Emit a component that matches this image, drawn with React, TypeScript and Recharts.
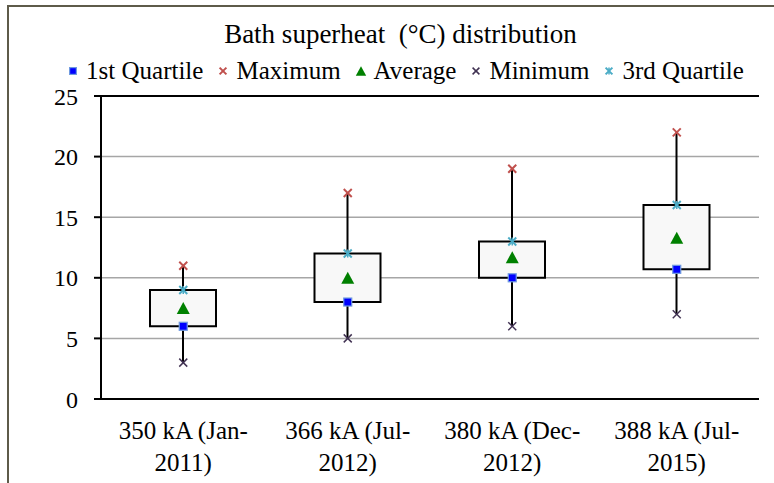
import React from 'react'
import {
  ComposedChart, Bar, Line, XAxis, YAxis, CartesianGrid, ReferenceLine
} from 'recharts'

const categories = ['350 kA (Jan-\n2011)', '366 kA (Jul-\n2012)', '380 kA (Dec-\n2012)', '388 kA (Jul-\n2015)']
const minimum = [3, 5, 6, 7]
const firstQuartile = [6, 8, 10, 10.7]
const average = [7.5, 10, 11.7, 13.3]
const thirdQuartile = [9, 12, 13, 16]
const maximum = [11, 17, 19, 22]
const yTicks = [0, 5, 10, 15, 20, 25]
const edgeTicks = [0, 1, 2, 3, 4]

const FONT = "'Liberation Serif', 'Times New Roman', serif"

const data = categories.map((name, i) => ({
  name,
  base: minimum[i],
  lowWhisker: firstQuartile[i] - minimum[i],
  box: thirdQuartile[i] - firstQuartile[i],
  highWhisker: maximum[i] - thirdQuartile[i],
  q1: firstQuartile[i],
  max: maximum[i],
  avg: average[i],
  min: minimum[i],
  q3: thirdQuartile[i],
}))

const COLORS = {
  q1: '#0000ff',
  max: '#c0504d',
  avg: '#008000',
  min: '#403152',
  q3: '#4bacc6',
}

// marker glyphs, shared by plot and legend
function Marker({ kind, cx, cy, s = 1 }: { kind: string; cx: number; cy: number; s?: number }) {
  const r = 4 * s
  if (kind === 'q1') {
    return <rect x={cx - r} y={cy - r} width={2 * r} height={2 * r} fill={COLORS.q1} stroke="#6f9ae0" strokeWidth={1.2} />
  }
  if (kind === 'avg') {
    const h = 12 * s
    const w = 13 * s
    return <polygon points={`${cx},${cy - h / 2} ${cx + w / 2},${cy + h / 2} ${cx - w / 2},${cy + h / 2}`} fill={COLORS.avg} />
  }
  if (kind === 'min') {
    return (
      <g stroke={COLORS.min} strokeWidth={1.5}>
        <line x1={cx - r} y1={cy - r} x2={cx + r} y2={cy + r} />
        <line x1={cx - r} y1={cy + r} x2={cx + r} y2={cy - r} />
      </g>
    )
  }
  const color = kind === 'max' ? COLORS.max : COLORS.q3
  return (
    <g stroke={color} strokeWidth={2}>
      <line x1={cx - r} y1={cy - r} x2={cx + r} y2={cy + r} />
      <line x1={cx - r} y1={cy + r} x2={cx + r} y2={cy - r} />
      {kind === 'q3' && <line x1={cx} y1={cy - r} x2={cx} y2={cy + r} strokeWidth={1.5} />}
    </g>
  )
}

const dotFor = (kind: string) => (p: any) => (
  <Marker key={`${kind}-${p.index}`} kind={kind} cx={p.cx} cy={p.cy} />
)

const Whisker = (p: any) => {
  const { x, y, width, height } = p
  if (height == null) return null
  return <line x1={x + width / 2} x2={x + width / 2} y1={y} y2={y + height} stroke="#000" strokeWidth={2} />
}

const CategoryTick = (p: any) => {
  const lines = String(p.payload.value).split('\n')
  return (
    <text x={p.x} y={p.y} textAnchor="middle" style={{ fontFamily: FONT, fontSize: 25 }} fill="#000">
      {lines.map((l, i) => (
        <tspan key={i} x={p.x} dy={32}>{l}</tspan>
      ))}
    </text>
  )
}

const legendItems = [
  { kind: 'q1', label: '1st Quartile' },
  { kind: 'max', label: 'Maximum' },
  { kind: 'avg', label: 'Average' },
  { kind: 'min', label: 'Minimum' },
  { kind: 'q3', label: '3rd Quartile' },
]

export default function App() {
  return (
    <div
      style={{
        position: 'absolute', left: 7, top: 5, width: 767, height: 478,
        borderTop: '2px solid #5e5b4a', borderLeft: '2px solid #5e5b4a',
        boxSizing: 'border-box', overflow: 'hidden', background: '#fff',
        fontFamily: FONT,
      }}
    >
      <div style={{
        position: 'absolute', left: 9, top: 12, width: 765, height: 30, lineHeight: '30px',
        textAlign: 'center', fontSize: 27, color: '#000', whiteSpace: 'pre',
      }}>
        {'Bath superheat  (°C) distribution'}
      </div>
      <div style={{
        position: 'absolute', left: 14, top: 50, width: 765, height: 28,
        display: 'flex', justifyContent: 'center', alignItems: 'center', gap: 14,
        fontSize: 25, color: '#000',
      }}>
        {legendItems.map((it) => (
          <span key={it.kind} style={{ display: 'flex', alignItems: 'center', gap: 7 }}>
            <svg width={12} height={12}><Marker kind={it.kind} cx={6} cy={6} s={it.kind === 'avg' ? 0.8 : 0.85} /></svg>
            {it.label}
          </span>
        ))}
      </div>
      <div style={{ position: 'absolute', left: 0, top: 0 }}>
        <ComposedChart
          width={765}
          height={476}
          data={data}
          margin={{ top: 89, right: 15, bottom: 0, left: 0 }}
          style={{ fontFamily: FONT }}
        >
          <CartesianGrid vertical={false} stroke="#a6a6a6" strokeWidth={1.5} />
          <XAxis
            xAxisId="edge"
            type="number"
            domain={[0, 4]}
            ticks={edgeTicks}
            tick={false}
            tickLine={{ stroke: '#000', strokeWidth: 2 }}
            tickSize={7}
            axisLine={false}
            height={0}
            allowDataOverflow
          />
          <XAxis
            dataKey="name"
            tick={<CategoryTick />}
            tickLine={false}
            axisLine={{ stroke: '#000', strokeWidth: 2 }}
            height={84}
            interval={0}
          />
          <YAxis
            domain={[0, 25]}
            ticks={yTicks}
            width={92}
            tickSize={7}
            tickMargin={16}
            axisLine={{ stroke: '#000', strokeWidth: 2 }}
            tickLine={{ stroke: '#000', strokeWidth: 2 }}
            tick={{ fontSize: 24, fill: '#000', style: { fontFamily: FONT } }}
          />
          <ReferenceLine y={25} stroke="#000" strokeWidth={2} />
          <ReferenceLine xAxisId="edge" x={4} stroke="#000" strokeWidth={2} />
          <Bar dataKey="base" stackId="a" fill="none" barSize={66} isAnimationActive={false} />
          <Bar dataKey="lowWhisker" stackId="a" barSize={66} shape={Whisker} isAnimationActive={false} />
          <Bar dataKey="box" stackId="a" fill="#f8f8f8" stroke="#000" strokeWidth={2} barSize={66} isAnimationActive={false} />
          <Bar dataKey="highWhisker" stackId="a" barSize={66} shape={Whisker} isAnimationActive={false} />
          <Line dataKey="min" stroke="none" dot={dotFor('min')} activeDot={false} isAnimationActive={false} />
          <Line dataKey="max" stroke="none" dot={dotFor('max')} activeDot={false} isAnimationActive={false} />
          <Line dataKey="q3" stroke="none" dot={dotFor('q3')} activeDot={false} isAnimationActive={false} />
          <Line dataKey="q1" stroke="none" dot={dotFor('q1')} activeDot={false} isAnimationActive={false} />
          <Line dataKey="avg" stroke="none" dot={dotFor('avg')} activeDot={false} isAnimationActive={false} />
        </ComposedChart>
      </div>
    </div>
  )
}
